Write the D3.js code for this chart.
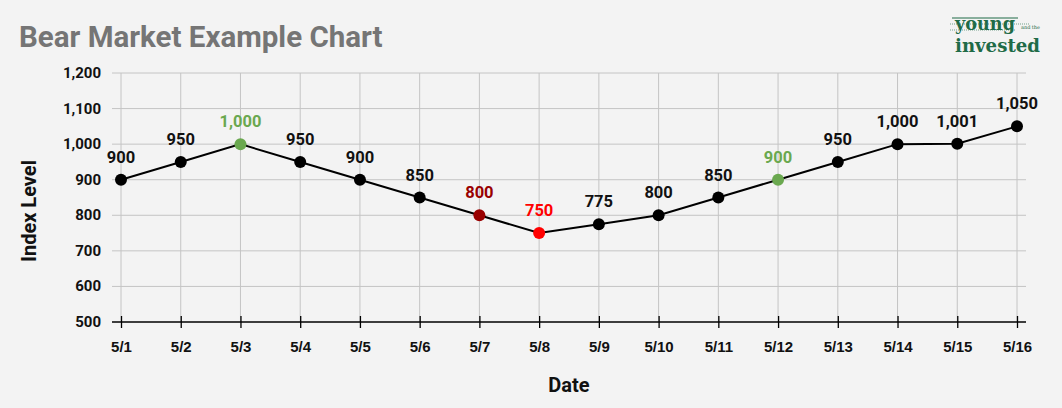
<!doctype html>
<html lang="en">
<head>
<meta charset="utf-8">
<script src="https://d3js.org/d3.v7.min.js"></script>
<style>
  body { margin: 0; background: #f3f3f3; }
  svg { display: block; }
</style>
</head>
<body>
<div id="chart"></div>
<script>
// Data
var dates = ["5/1","5/2","5/3","5/4","5/5","5/6","5/7","5/8","5/9","5/10","5/11","5/12","5/13","5/14","5/15","5/16"]
var values = [900, 950, 1000, 950, 900, 850, 800, 750, 775, 800, 850, 900, 950, 1000, 1001, 1050]
var pointColors = ["#000","#000","#6aa84f","#000","#000","#000","#990000","#ff0000","#000","#000","#000","#6aa84f","#000","#000","#000","#000"]
var yTicks = [500, 600, 700, 800, 900, 1000, 1100, 1200]

var width = 1062, height = 408

var svg = d3.select("#chart").append("svg")
    .attr("width", width)
    .attr("height", height)

svg.append("rect").attr("width", width).attr("height", height).attr("fill", "#f3f3f3")

var x = d3.scalePoint().domain(dates).range([121, 1017])
var y = d3.scaleLinear().domain([500, 1200]).range([322, 73])
var left = 112, right = 1026

// horizontal grid
svg.append("g").selectAll("line").data(yTicks.slice(1)).enter().append("line")
    .attr("x1", left).attr("x2", right)
    .attr("y1", function(d){ return y(d) }).attr("y2", function(d){ return y(d) })
    .attr("stroke", "#c4c4c4").attr("stroke-width", 1)

// vertical grid
svg.append("g").selectAll("line").data(dates).enter().append("line")
    .attr("x1", function(d){ return x(d) }).attr("x2", function(d){ return x(d) })
    .attr("y1", y(1200)).attr("y2", y(500))
    .attr("stroke", "#c4c4c4").attr("stroke-width", 1)

// y labels
svg.append("g").selectAll("text").data(yTicks).enter().append("text")
    .attr("x", 101).attr("y", function(d){ return y(d) + 5 })
    .attr("text-anchor", "end")
    .style("font-family", "Roboto").style("font-weight", "bold").style("font-size", "15px")
    .attr("fill", "#111")
    .text(function(d){ return d3.format(",")(d) })

// x axis
var xAxis = d3.axisBottom(x).tickSize(6).tickSizeOuter(0).tickPadding(13)
var gx = svg.append("g").attr("transform", "translate(0," + y(500) + ")").call(xAxis)
gx.select(".domain").remove()
gx.append("line").attr("x1", left).attr("x2", right).attr("stroke", "#000").attr("stroke-width", 1.3)
gx.selectAll(".tick line").attr("y1", -6).attr("y2", 6).attr("stroke", "#000").attr("stroke-width", 1.3)
gx.selectAll(".tick text")
    .style("font-family", "Liberation Sans, Arial").style("font-weight", "bold").style("font-size", "15px")
    .attr("fill", "#111")

// line
var line = d3.line().x(function(d, i){ return x(dates[i]) }).y(function(d){ return y(d) })
svg.append("path").datum(values)
    .attr("d", line).attr("fill", "none").attr("stroke", "#000").attr("stroke-width", 2)

// points
svg.append("g").selectAll("circle").data(values).enter().append("circle")
    .attr("cx", function(d, i){ return x(dates[i]) })
    .attr("cy", function(d){ return y(d) })
    .attr("r", 6)
    .attr("fill", function(d, i){ return pointColors[i] })

// point labels
svg.append("g").selectAll("text").data(values).enter().append("text")
    .attr("x", function(d, i){ return x(dates[i]) })
    .attr("y", function(d){ return y(d) - 17 })
    .attr("text-anchor", "middle")
    .style("font-family", "Roboto").style("font-weight", "bold").style("font-size", "16.5px")
    .attr("fill", function(d, i){ return pointColors[i] === "#000" ? "#111" : pointColors[i] })
    .text(function(d){ return d3.format(",")(d) })

// title
svg.append("text").attr("x", 19).attr("y", 47)
    .style("font-family", "Roboto").style("font-weight", "bold").style("font-size", "29.5px")
    .attr("fill", "#757575")
    .text("Bear Market Example Chart")

// axis titles
svg.append("text").attr("x", 569).attr("y", 392).attr("text-anchor", "middle")
    .style("font-family", "Roboto").style("font-weight", "bold").style("font-size", "20px")
    .attr("fill", "#111").text("Date")
svg.append("text").attr("transform", "translate(36,211) rotate(-90)").attr("text-anchor", "middle")
    .style("font-family", "Roboto").style("font-weight", "bold").style("font-size", "20px")
    .attr("fill", "#111").text("Index Level")

// logo
var green = "#1f6b47"
var logo = svg.append("g").attr("fill", green)
logo.append("line").attr("x1", 952).attr("x2", 1018).attr("y1", 18).attr("y2", 18).attr("stroke", green).attr("stroke-width", 1.2)
logo.append("line").attr("x1", 950).attr("x2", 1030).attr("y1", 24).attr("y2", 24).attr("stroke", green).attr("stroke-width", 0.6).attr("stroke-dasharray", "1,1")
logo.append("line").attr("x1", 950).attr("x2", 1016).attr("y1", 30).attr("y2", 30).attr("stroke", green).attr("stroke-width", 0.6).attr("stroke-dasharray", "1,1")
logo.append("text").attr("x", 955).attr("y", 30)
    .style("font-family", "DejaVu Serif").style("font-weight", "bold").style("font-size", "19px")
    .attr("textLength", 60).attr("lengthAdjust", "spacingAndGlyphs").text("young")
logo.append("text").attr("x", 1021).attr("y", 29)
    .style("font-family", "DejaVu Serif").style("font-size", "5px")
    .attr("textLength", 19).text("and the")
logo.append("text").attr("x", 955).attr("y", 52)
    .style("font-family", "DejaVu Serif").style("font-weight", "bold").style("font-size", "19px")
    .attr("textLength", 85).attr("lengthAdjust", "spacingAndGlyphs").text("invested")
</script>
</body>
</html>
